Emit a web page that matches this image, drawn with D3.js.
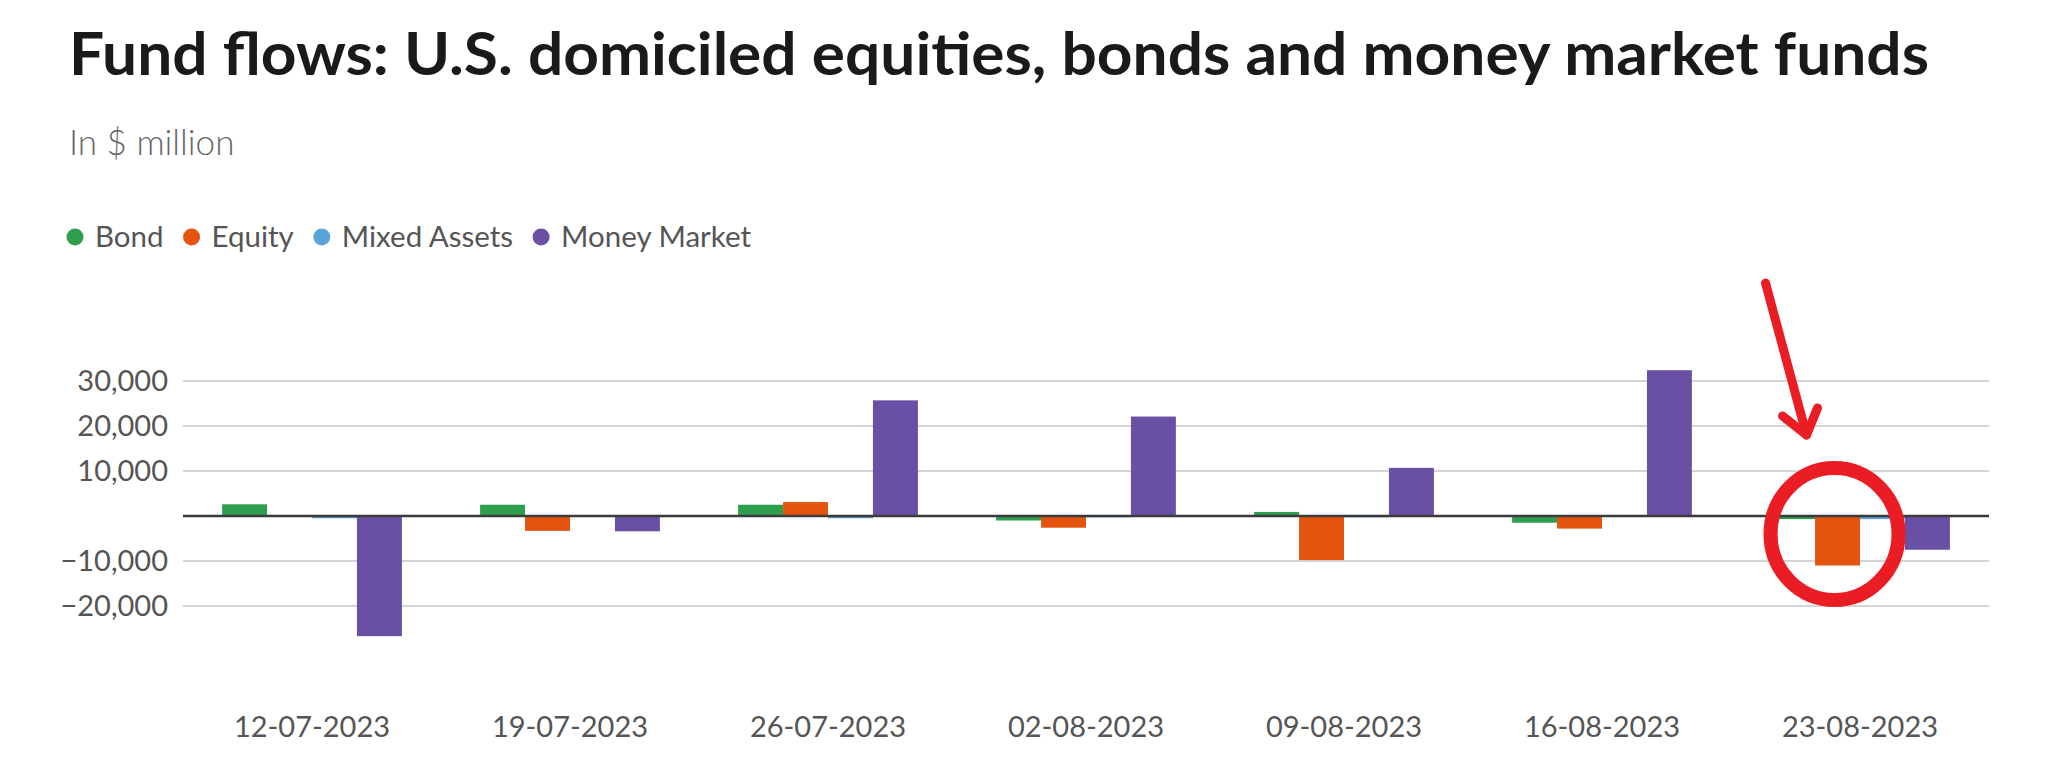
<!DOCTYPE html>
<html>
<head>
<meta charset="utf-8">
<script src="https://cdn.jsdelivr.net/npm/d3@7"></script>
<style>
	body { margin: 0; background: #fff; }
	svg { display: block; font-family: Lato, 'Open Sans', sans-serif; }
</style>
</head>
<body>
<script>
const dates = ['12-07-2023', '19-07-2023', '26-07-2023', '02-08-2023', '09-08-2023', '16-08-2023', '23-08-2023'];
const seriesNames = ['Bond', 'Equity', 'Mixed Assets', 'Money Market'];
const bond = [2600, 2500, 2500, -1000, 900, -1500, -700];
const equity = [100, -3300, 3100, -2600, -9800, -2800, -11000];
const mixedAssets = [-500, -150, -500, -300, -300, -200, -700];
const moneyMarket = [-26700, -3400, 25700, 22100, 10700, 32400, -7500];
const yTicks = [-20000, -10000, 0, 10000, 20000, 30000];
const colors = ['#2e9e4f', '#e5540f', '#5aa4dc', '#6a50a4'];

class Bars {
	constructor() {
		this._width = 2048;
		this._height = 770;
		this._margins = {left: 183, right: 59, top: 381, bottom: 164};
		this._values = [bond, equity, mixedAssets, moneyMarket];
		this._x0 = d3.scaleBand().domain(dates).range([this._margins.left, this._width - this._margins.right]);
		this._x1 = d3.scaleBand().domain(seriesNames).range([0, this._x0.bandwidth()]).paddingOuter(0.87);
		this._y = d3.scaleLinear().domain([-20000, 30000]).range([this._height - this._margins.bottom, this._margins.top]);
		this._color = d3.scaleOrdinal().domain(seriesNames).range(colors);
		this._svg = null;
	}
	render() {
		this._svg = d3.select('body')
			.append('svg')
			.attr('width', this._width)
			.attr('height', this._height);
		this.renderTitle();
		this.renderLegend();
		this.renderGrid();
		this.renderBars();
		this.renderAxes();
		this.renderNote();
	}
	renderTitle() {
		this._svg.append('text')
			.attr('x', 69)
			.attr('y', 75)
			.attr('fill', '#1a1a1a')
			.style('font-size', '59px')
			.style('font-weight', 700)
			.attr('textLength', 1860)
			.attr('lengthAdjust', 'spacingAndGlyphs')
			.text('Fund flows: U.S. domiciled equities, bonds and money market funds');

		this._svg.append('text')
			.attr('x', 69)
			.attr('y', 155)
			.attr('fill', '#666')
			.style('font-size', '35px')
			.style('font-weight', 300)
			.text('In $ million');
	}
	renderLegend() {
		let legend = this._svg.append('g').attr('class', 'legend');
		let x = 75;
		seriesNames.forEach(name => {
			legend.append('circle')
				.attr('cx', x)
				.attr('cy', 237)
				.attr('r', 8.5)
				.attr('fill', this._color(name));
			let t = legend.append('text')
				.attr('x', x + 20)
				.attr('y', 247)
				.attr('fill', '#555')
				.style('font-size', '29.5px')
				.text(name);
			x = x + 20 + t.node().getComputedTextLength() + 28;
		});
	}
	renderGrid() {
		this._svg.append('g')
			.attr('class', 'grid')
			.selectAll('line')
			.data(yTicks.filter(d => d != 0))
			.enter()
			.append('line')
			.attr('x1', this._margins.left)
			.attr('x2', this._width - this._margins.right)
			.attr('y1', d => this._y(d))
			.attr('y2', d => this._y(d))
			.attr('stroke', '#d4d4d4')
			.attr('stroke-width', 2);
	}
	renderBars() {
		let groups = this._svg.append('g')
			.attr('class', 'bars')
			.selectAll('g')
			.data(dates)
			.enter()
			.append('g')
			.attr('transform', d => `translate(${this._x0(d)},0)`);

		groups.selectAll('rect')
			.data((d, i) => seriesNames.map((name, k) => ({name: name, value: this._values[k][i]})))
			.enter()
			.append('rect')
			.attr('x', d => this._x1(d.name))
			.attr('width', this._x1.bandwidth())
			.attr('y', d => this._y(Math.max(0, d.value)))
			.attr('height', d => Math.abs(this._y(d.value) - this._y(0)))
			.attr('fill', d => this._color(d.name));
	}
	renderAxes() {
		let yAxis = d3.axisLeft(this._y)
			.tickValues(yTicks.filter(d => d != 0))
			.tickFormat(d3.format(','))
			.tickSize(0)
			.tickPadding(15);

		let ya = this._svg.append('g')
			.attr('class', 'y axis')
			.attr('transform', `translate(${this._margins.left},0)`)
			.call(yAxis);
		ya.select('.domain').remove();
		ya.selectAll('text')
			.attr('fill', '#555')
			.style('font-size', '29px')
			.style('font-family', 'Lato, sans-serif');

		let xAxis = d3.axisBottom(this._x0).tickSize(0).tickPadding(0);
		let xa = this._svg.append('g')
			.attr('class', 'x axis')
			.attr('transform', `translate(0,${737})`)
			.call(xAxis);
		xa.select('.domain').remove();
		xa.selectAll('text')
			.attr('dy', 0)
			.attr('fill', '#555')
			.style('font-size', '29px')
			.style('font-family', 'Lato, sans-serif');

		this._svg.append('line')
			.attr('class', 'zero')
			.attr('x1', this._margins.left)
			.attr('x2', this._width - this._margins.right)
			.attr('y1', this._y(0))
			.attr('y2', this._y(0))
			.attr('stroke', '#3a3a3a')
			.attr('stroke-width', 2.5);
	}
	renderNote() {
		// red circle + arrow pointing at the latest equity outflow
		let last = dates[dates.length - 1];
		let cx = this._x0(last) + this._x1('Equity') + this._x1.bandwidth() / 2 - 3;
		let cy = this._y(0) + 18;
		let note = this._svg.append('g').attr('class', 'note')
			.attr('stroke', '#ea1d25')
			.attr('fill', 'none')
			.attr('stroke-linecap', 'round')
			.attr('stroke-linejoin', 'round');

		note.append('ellipse')
			.attr('cx', cx)
			.attr('cy', cy)
			.attr('rx', 64)
			.attr('ry', 66)
			.attr('stroke-width', 14);

		let tip = [cx - 28, cy - 99];
		note.append('path')
			.attr('d', `M${cx - 69},${cy - 251}L${tip[0]},${tip[1]}`)
			.attr('stroke-width', 9);
		note.append('path')
			.attr('d', `M${cx - 52},${cy - 118}L${tip[0]},${tip[1]}L${cx - 17},${cy - 126}`)
			.attr('stroke-width', 9);
	}
}

new Bars().render();
</script>
</body>
</html>
